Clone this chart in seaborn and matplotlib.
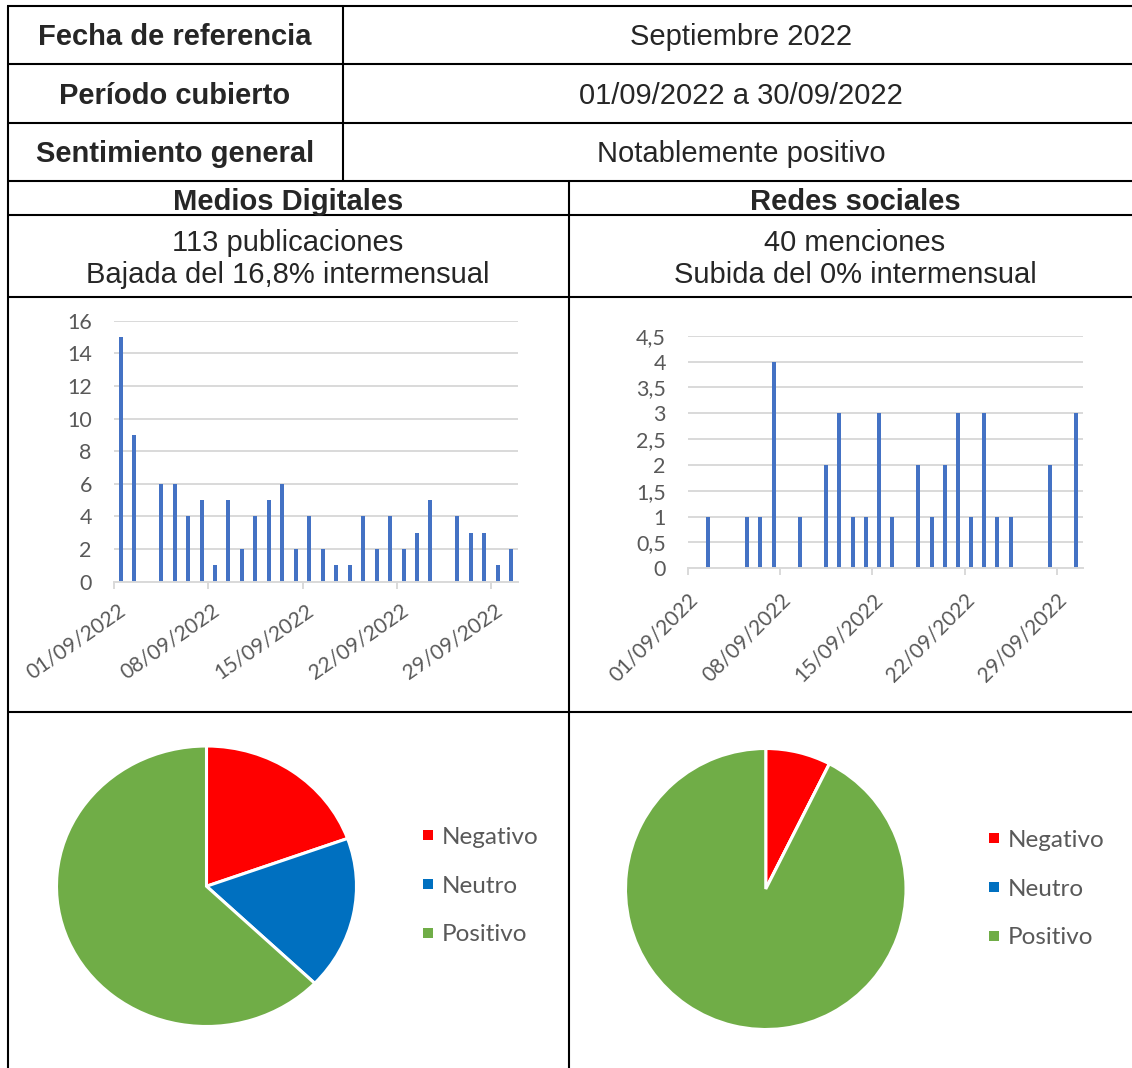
import matplotlib
matplotlib.use("Agg")
import matplotlib.pyplot as plt
import matplotlib.transforms as mtransforms
from matplotlib.lines import Line2D
import pandas as pd
import seaborn as sns

W, H = 1132, 1068
DPI = 100

# --- table text ---
row_labels = ["Fecha de referencia", "Período cubierto", "Sentimiento general"]
row_values = ["Septiembre 2022", "01/09/2022 a 30/09/2022", "Notablemente positivo"]
section_titles = ["Medios Digitales", "Redes sociales"]
section_summary = ["113 publicaciones\nBajada del 16,8% intermensual",
                   "40 menciones\nSubida del 0% intermensual"]

# --- daily counts, September 2022 ---
days = list(range(1, 31))
date_ticks = ["01/09/2022", "08/09/2022", "15/09/2022", "22/09/2022", "29/09/2022"]
medios_counts = [15, 9, 0, 6, 6, 4, 5, 1, 5, 2, 4, 5, 6, 2, 4,
                 2, 1, 1, 4, 2, 4, 2, 3, 5, 0, 4, 3, 3, 1, 2]
redes_counts = [0, 1, 0, 0, 1, 1, 4, 0, 1, 0, 2, 3, 1, 1, 3,
                1, 0, 2, 1, 2, 3, 1, 3, 1, 1, 0, 0, 2, 0, 3]

# --- sentiment ---
sentiment_labels = ["Negativo", "Neutro", "Positivo"]
sentiment_colors = ["#FF0000", "#0070C0", "#70AD47"]
medios_sentiment = [22, 20, 71]
redes_sentiment = [3, 0, 37]

BAR_COLOR = "#4472C4"
GRID = "#D9D9D9"
TICK_TXT = "#595959"
CHART_FONT = ["Lato", "DejaVu Sans"]
TABLE_FONT = ["Liberation Sans", "DejaVu Sans"]

sns.set_theme(style="white")
plt.rcParams["font.family"] = CHART_FONT


def px_axes(fig, x0, y0, x1, y1):
    return fig.add_axes([x0 / W, 1 - y1 / H, (x1 - x0) / W, (y1 - y0) / H])


def bar_chart(fig, box, counts, ymax, step, rot, fmt, dx, dy):
    ax = px_axes(fig, *box)
    df = pd.DataFrame({"day": days, "count": counts})
    sns.barplot(data=df, x="day", y="count", native_scale=True, width=0.3,
                color=BAR_COLOR, saturation=1, linewidth=0, errorbar=None, ax=ax)
    ax.set_xlim(0.5, 30.5)
    ax.set_ylim(0, ymax)
    yt = [i * step for i in range(int(round(ymax / step)) + 1)]
    ax.set_yticks(yt)
    ax.set_yticklabels([fmt(v) for v in yt])
    ax.set_xticks([0.5, 7.5, 14.5, 21.5, 28.5])
    ax.set_xticklabels(date_ticks, rotation=rot, ha="right", va="center",
                       rotation_mode="anchor")
    ax.set_xlabel("")
    ax.set_ylabel("")
    ax.yaxis.grid(True, color=GRID, lw=1.4)
    ax.set_axisbelow(True)
    for s in ["top", "right", "left"]:
        ax.spines[s].set_visible(False)
    ax.spines["bottom"].set_color(GRID)
    ax.spines["bottom"].set_linewidth(1.4)
    ax.tick_params(axis="x", length=5, width=1.4, color=GRID, labelcolor=TICK_TXT,
                   labelsize=15, pad=0, bottom=True)
    ax.tick_params(axis="y", length=0, labelcolor=TICK_TXT, labelsize=15.5, pad=16)
    off = mtransforms.ScaledTranslation(dx / DPI, -dy / DPI, fig.dpi_scale_trans)
    for lab in ax.get_xticklabels():
        lab.set_transform(lab.get_transform() + off)
    return ax


def pie_chart(fig, box, values, legend_xy):
    ax = px_axes(fig, *box)
    ax.pie(values, colors=sentiment_colors, startangle=90, counterclock=False,
           wedgeprops=dict(edgecolor="white", linewidth=2.2))
    ax.set_aspect("auto")
    ax.set_xlim(-1.0, 1.0)
    ax.set_ylim(-1.0, 1.0)
    handles = [Line2D([], [], marker="s", linestyle="", markersize=7.5,
                      markerfacecolor=c, markeredgewidth=0) for c in sentiment_colors]
    fig.legend(handles, sentiment_labels, loc="center left",
               bbox_to_anchor=(legend_xy[0] / W, 1 - legend_xy[1] / H),
               frameon=False, fontsize=17.5, labelcolor=TICK_TXT,
               handlelength=0.55, handletextpad=0.3, labelspacing=1.15,
               borderpad=0, borderaxespad=0)
    return ax


fig = plt.figure(figsize=(W / DPI, H / DPI), dpi=DPI)
fig.patch.set_facecolor("white")

# table frame
bg = fig.add_axes([0, 0, 1, 1])
bg.set_xlim(0, W)
bg.set_ylim(H, 0)
bg.axis("off")
lw = 1.5
for y in [6, 64, 123, 181, 215, 297, 712]:
    bg.plot([7, W], [y, y], color="black", lw=lw, solid_capstyle="butt")
bg.plot([7.5, 7.5], [6, H], color="black", lw=lw)
bg.plot([343, 343], [6, 181], color="black", lw=lw)
bg.plot([569, 569], [181, H], color="black", lw=lw)

row_y = [37, 96, 154]
for lab, val, y in zip(row_labels, row_values, row_y):
    bg.text(175, y, lab, ha="center", va="center", fontsize=21, fontweight="bold",
            family=TABLE_FONT)
    bg.text(741, y, val, ha="center", va="center", fontsize=21, family=TABLE_FONT)

col_x = [288, 855]
for x, title, summ in zip(col_x, section_titles, section_summary):
    bg.text(x, 201.5, title, ha="center", va="center", fontsize=21, fontweight="bold",
            family=TABLE_FONT)
    for k, line in enumerate(summ.split("\n")):
        bg.text(x, 243 + 32 * k, line, ha="center", va="center", fontsize=21,
                family=TABLE_FONT)

# bar charts
bar_chart(fig, (114, 320.7, 518, 581.7), medios_counts, 16, 2, 35,
          lambda v: f"{v:g}", 9, 20)
bar_chart(fig, (688, 335.7, 1083, 568.3), redes_counts, 4.5, 0.5, 45,
          lambda v: f"{v:g}".replace(".", ","), 7, 21)

# pies
pie_chart(fig, (56.5, 746, 356.5, 1026.5), medios_sentiment, (421, 886))
pie_chart(fig, (625.5, 748.5, 906, 1029.5), redes_sentiment, (987, 889))

fig.savefig("out.png", dpi=DPI, facecolor="white")
